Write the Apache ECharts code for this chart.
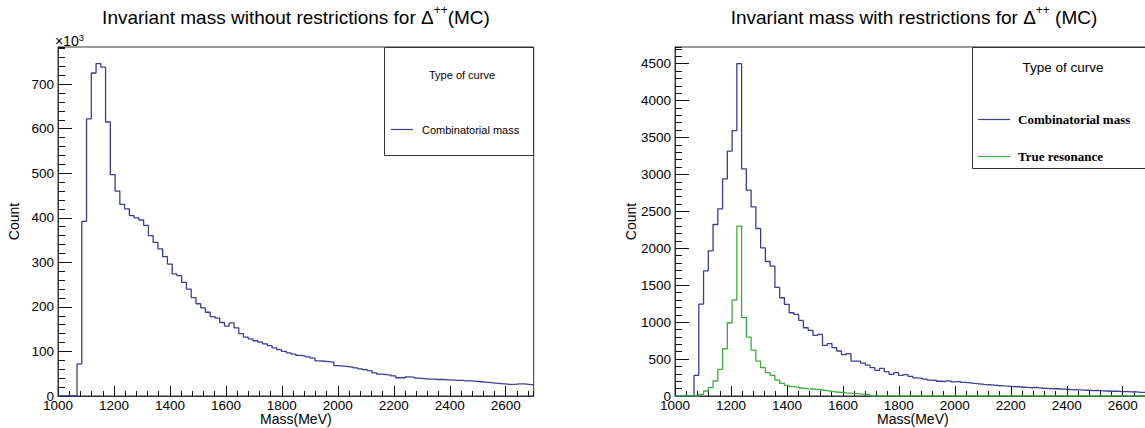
<!DOCTYPE html>
<html>
<head>
<meta charset="utf-8">
<script src="https://cdn.jsdelivr.net/npm/echarts@6/dist/echarts.min.js"></script>
<style>
html,body{margin:0;padding:0;background:#ffffff;}
#chart{width:1145px;height:428px;}
</style>
</head>
<body>
<div id="chart"></div>
<script>
// ---------------- data ----------------
// 100 histogram bins of 17 MeV from 1000 to 2700 MeV
const binLow = 1000;
const binWidth = 17;
const binCount = 100;

// Left panel: combinatorial mass, counts in units of 10^3
const leftCombinatorialK = [
  0, 0, 0, 0,
  72, 392, 622, 725, 746, 738, 615, 497, 460, 430,
  420, 405, 400, 395, 383, 360, 345, 330, 313, 296,
  274, 270, 255, 240, 221, 207, 198, 188, 178, 175,
  165, 157, 164, 153, 140, 132, 128, 124, 121, 117,
  113, 108, 104, 100, 97, 94, 91, 90, 88, 85,
  79, 78, 77, 76, 68, 67, 66, 65, 63, 61,
  59, 57, 52, 49, 48, 47, 45, 41, 41, 43,
  42, 40, 39, 38, 38, 37, 37, 36, 36, 35,
  35, 34, 34, 33, 32, 31, 30, 29, 28, 27,
  26, 26, 27, 27, 26, 25
];

// Right panel: combinatorial mass and true resonance (counts)
const rightCombinatorial = [
  0, 0, 0, 0,
  280, 1244, 1695, 1966, 2322, 2534, 2940, 3314, 3593, 4500,
  3075, 2786, 2561, 2268, 2006, 1821, 1758, 1470, 1330, 1240,
  1127, 1105, 1023, 924, 888, 820, 834, 685, 708, 654,
  609, 559, 573, 473, 473, 446, 419, 383, 347, 374,
  329, 293, 316, 280, 290, 265, 245, 238, 228, 215,
  210, 200, 195, 205, 190, 198, 185, 178, 170, 165,
  158, 152, 148, 142, 138, 135, 128, 125, 122, 118,
  112, 116, 108, 104, 100, 98, 95, 92, 88, 86,
  84, 80, 78, 74, 76, 70, 68, 64, 66, 60,
  58, 55, 56, 50, 48, 46
];
const rightTrueResonance = [
  0, 0, 0, 0, 0,
  22, 68, 113, 203, 360, 640, 992, 1298, 2300, 1060,
  798, 622, 473, 383, 316, 280, 216, 171, 144, 126,
  120, 108, 99, 95, 90, 81, 72, 63, 54, 48,
  42, 38, 33, 28, 24, 18, 0, 0, 0, 0,
  0, 0, 0, 0, 0, 0, 0, 0, 0, 0,
  0, 0, 0, 0, 0, 0, 0, 0, 0, 0,
  0, 0, 0, 0, 0, 0, 0, 0, 0, 0,
  0, 0, 0, 0, 0, 0, 0, 0, 0, 0,
  0, 0, 0, 0, 0, 0, 0, 0, 0, 0,
  0, 0, 0, 0, 0
];

// tick labels
const massTicks = [1000, 1200, 1400, 1600, 1800, 2000, 2200, 2400, 2600];
const leftCountTicks = [0, 100, 200, 300, 400, 500, 600, 700];
const rightCountTicks = [0, 500, 1000, 1500, 2000, 2500, 3000, 3500, 4000, 4500];

const titles = {
  left: ['Invariant mass without restrictions for Δ', '++', '(MC)'],
  right: ['Invariant mass with restrictions for Δ', '++', ' (MC)']
};
const legendHeader = 'Type of curve';
const seriesNames = ['Combinatorial mass', 'True resonance'];

// ---------------- styles ----------------
const BLUE = '#3c3c98';
const GREEN = '#3dac3d';
const FRAME = '#333333';
const SANS = '"Liberation Sans", Arial, Helvetica, sans-serif';
const SERIF = '"Liberation Serif", "Times New Roman", serif';

const massEdges = [];
for (let i = 0; i <= binCount; i++) massEdges.push(binLow + i * binWidth);
const massMin = massEdges[0];
const massMax = massEdges[binCount];

function histData(counts) {
  const d = counts.map((v, i) => [massEdges[i], v]);
  d.push([massEdges[binCount], counts[counts.length - 1]]);
  return d;
}

const leftMax = Math.max(...leftCombinatorialK) * 1.05;
const rightMax = Math.max(...rightCombinatorial) * 1.05;

function majorX(grid) {
  return {
    gridIndex: grid, type: 'value', position: 'bottom',
    min: massMin, max: massMax, interval: massTicks[1] - massTicks[0],
    axisLine: { show: true, onZero: false, lineStyle: { color: FRAME, width: 1 } },
    axisTick: { show: true, inside: true, length: 10, lineStyle: { color: '#111', width: 1 } },
    axisLabel: {
      show: true, margin: 2, color: '#000', fontSize: 13.5, fontFamily: SANS,
      showMaxLabel: false, showMinLabel: true,
      formatter: v => massTicks.indexOf(v) >= 0 ? String(v) : ''
    },
    splitLine: { show: false },
    name: 'Mass(MeV)', nameLocation: 'middle', nameGap: 16, nameMoveOverlap: false,
    nameTextStyle: { color: '#000', fontSize: 14, fontFamily: SANS, lineHeight: 14 }
  };
}
function minorX(grid) {
  return {
    gridIndex: grid, type: 'value', position: 'bottom',
    min: massMin, max: massMax, interval: (massTicks[1] - massTicks[0]) / 5,
    axisLine: { show: false, onZero: false },
    axisTick: { show: true, inside: true, length: 5, lineStyle: { color: '#111', width: 1 } },
    axisLabel: { show: false },
    splitLine: { show: false }
  };
}
function majorY(grid, max, ticks) {
  return {
    gridIndex: grid, type: 'value', position: 'left',
    min: 0, max: max, interval: ticks[1] - ticks[0],
    axisLine: { show: true, onZero: false, lineStyle: { color: FRAME, width: 1 } },
    axisTick: { show: true, inside: true, length: 14, lineStyle: { color: '#111', width: 1 } },
    axisLabel: {
      show: true, margin: 4, color: '#000', fontSize: 13.5, fontFamily: SANS,
      showMaxLabel: false,
      formatter: v => ticks.indexOf(v) >= 0 ? String(v) : ''
    },
    splitLine: { show: false },
    name: 'Count', nameLocation: 'middle', nameGap: 37, nameMoveOverlap: false,
    nameTextStyle: { color: '#000', fontSize: 14, fontFamily: SANS }
  };
}
function minorY(grid, max, ticks, minorDiv) {
  return {
    gridIndex: grid, type: 'value', position: 'left',
    min: 0, max: max, interval: (ticks[1] - ticks[0]) / minorDiv,
    axisLine: { show: false, onZero: false },
    axisTick: { show: true, inside: true, length: 7, lineStyle: { color: '#111', width: 1 } },
    axisLabel: { show: false },
    splitLine: { show: false }
  };
}

function titleText(x, parts) {
  return {
    type: 'text', x: x, y: 17, silent: true,
    style: {
      text: '{a|' + parts[0] + '}{s|' + parts[1] + '}{a|' + parts[2] + '}',
      align: 'center', verticalAlign: 'middle',
      rich: {
        a: { fontSize: 19, fontFamily: SANS, fill: '#000', lineHeight: 26 },
        s: { fontSize: 12, fontFamily: SANS, fill: '#000', lineHeight: 13, verticalAlign: 'top' }
      }
    }
  };
}

const option = {
  animation: false,
  backgroundColor: '#ffffff',
  grid: [
    { left: 58, right: 611.3, top: 47, bottom: 32, show: true, borderColor: FRAME, borderWidth: 1,
      backgroundColor: 'transparent', containLabel: false, outerBoundsMode: 'none' },
    { left: 675, right: -5.7, top: 47, bottom: 32, show: true, borderColor: FRAME, borderWidth: 1,
      backgroundColor: 'transparent', containLabel: false, outerBoundsMode: 'none' }
  ],
  xAxis: [majorX(0), minorX(0), majorX(1), minorX(1)],
  yAxis: [
    majorY(0, leftMax, leftCountTicks), minorY(0, leftMax, leftCountTicks, 5),
    majorY(1, rightMax, rightCountTicks), minorY(1, rightMax, rightCountTicks, 5)
  ],
  series: [
    { name: seriesNames[0], type: 'line', step: 'end', xAxisIndex: 0, yAxisIndex: 0,
      data: histData(leftCombinatorialK), symbol: 'none', silent: true,
      lineStyle: { color: BLUE, width: 1.3 }, itemStyle: { color: BLUE } },
    { name: seriesNames[0], type: 'line', step: 'end', xAxisIndex: 2, yAxisIndex: 2,
      data: histData(rightCombinatorial), symbol: 'none', silent: true,
      lineStyle: { color: BLUE, width: 1.3 }, itemStyle: { color: BLUE } },
    { name: seriesNames[1], type: 'line', step: 'end', xAxisIndex: 2, yAxisIndex: 2,
      data: histData(rightTrueResonance), symbol: 'none', silent: true,
      lineStyle: { color: GREEN, width: 1.3 }, itemStyle: { color: GREEN } }
  ],
  graphic: [
    titleText(296, titles.left),
    titleText(914, titles.right),
    { type: 'text', x: 55, y: 41, silent: true,
      style: { text: '{a|×10}{s|3}', align: 'left', verticalAlign: 'middle',
        rich: { a: { fontSize: 14, fontFamily: SANS, fill: '#000', lineHeight: 18 },
                s: { fontSize: 9.5, fontFamily: SANS, fill: '#000', lineHeight: 10, verticalAlign: 'top' } } } },
    // left legend
    { type: 'rect', silent: true, shape: { x: 384.5, y: 47.5, width: 149, height: 108 },
      style: { fill: '#fff', stroke: FRAME, lineWidth: 1 } },
    { type: 'text', x: 462, y: 75, silent: true,
      style: { text: legendHeader, align: 'center', verticalAlign: 'middle', fontSize: 11, fontFamily: SANS, fill: '#000' } },
    { type: 'line', silent: true, shape: { x1: 391, y1: 129.5, x2: 413, y2: 129.5 },
      style: { stroke: BLUE, lineWidth: 1.2 } },
    { type: 'text', x: 422, y: 129.5, silent: true,
      style: { text: seriesNames[0], align: 'left', verticalAlign: 'middle', fontSize: 11, fontFamily: SANS, fill: '#000' } },
    // right legend
    { type: 'rect', silent: true, shape: { x: 972.5, y: 47.5, width: 200, height: 121 },
      style: { fill: '#fff', stroke: FRAME, lineWidth: 1 } },
    { type: 'text', x: 1063, y: 67, silent: true,
      style: { text: legendHeader, align: 'center', verticalAlign: 'middle', fontSize: 13.5, fontFamily: SANS, fill: '#000' } },
    { type: 'line', silent: true, shape: { x1: 978, y1: 119.5, x2: 1010, y2: 119.5 },
      style: { stroke: BLUE, lineWidth: 1.2 } },
    { type: 'text', x: 1018, y: 119.5, silent: true,
      style: { text: seriesNames[0], align: 'left', verticalAlign: 'middle', fontSize: 13, fontWeight: 'bold', fontFamily: SERIF, fill: '#000' } },
    { type: 'line', silent: true, shape: { x1: 978, y1: 156.5, x2: 1010, y2: 156.5 },
      style: { stroke: GREEN, lineWidth: 1.2 } },
    { type: 'text', x: 1018, y: 156.5, silent: true,
      style: { text: seriesNames[1], align: 'left', verticalAlign: 'middle', fontSize: 13, fontWeight: 'bold', fontFamily: SERIF, fill: '#000' } }
  ]
};

const chart = echarts.init(document.getElementById('chart'), null, { renderer: 'svg', width: 1145, height: 428 });
chart.setOption(option);
</script>
</body>
</html>
